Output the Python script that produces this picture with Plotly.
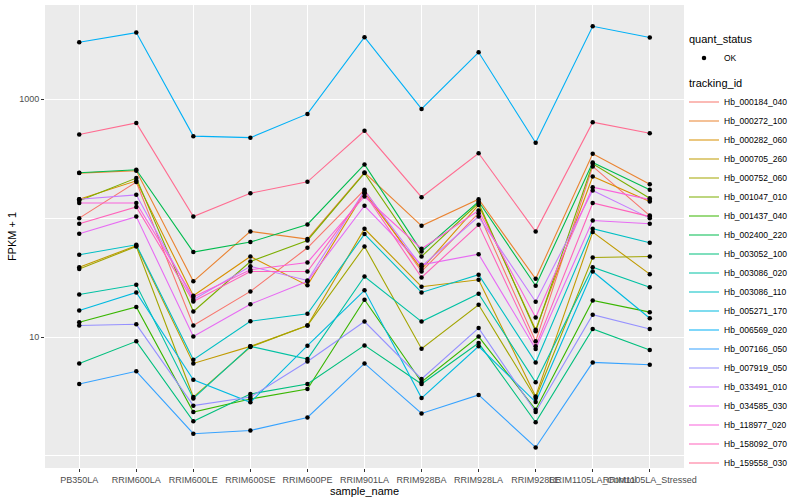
import plotly.graph_objects as go

samples = ["PB350LA", "RRIM600LA", "RRIM600LE", "RRIM600SE", "RRIM600PE", "RRIM901LA",
           "RRIM928BA", "RRIM928LA", "RRIM928LE", "RRIM1105LA_Control", "RRIM1105LA_Stressed"]

tracking_ids = ["Hb_000184_040", "Hb_000272_100", "Hb_000282_060", "Hb_000705_260", "Hb_000752_060",
                "Hb_001047_010", "Hb_001437_040", "Hb_002400_220", "Hb_003052_100", "Hb_003086_020",
                "Hb_003086_110", "Hb_005271_170", "Hb_006569_020", "Hb_007166_050", "Hb_007919_050",
                "Hb_033491_010", "Hb_034585_030", "Hb_118977_020", "Hb_158092_070", "Hb_159558_030"]

# FPKM + 1 values per gene, in sample order
hb_000184_040 = [100, 201, 12.5, 24.2, 56.3, 173, 35.6, 110, 9.2, 272, 105]
hb_000272_100 = [239, 250, 29.4, 77.3, 66.6, 242, 86.2, 144, 30.9, 347, 193]
hb_000282_060 = [144, 206, 22.3, 47.6, 27.2, 164, 37.3, 129, 11.5, 224, 138]
hb_000705_260 = [38.7, 58.6, 6.0, 8.35, 12.5, 81.4, 26.5, 30.3, 3.17, 76.3, 33.8]
hb_000752_060 = [37.3, 57.8, 3.13, 8.24, 12.5, 57.8, 7.98, 18.7, 3.07, 46.7, 47.6]
hb_001047_010 = [140, 217, 16.4, 43.2, 64.9, 239, 47.6, 134, 11.2, 286, 147]
hb_001437_040 = [13.3, 17.9, 2.34, 3.01, 3.66, 20.6, 4.19, 10.1, 2.45, 20.3, 16.2]
hb_002400_220 = [241, 255, 51.8, 62.9, 88.5, 283, 52.5, 138, 27.0, 294, 173]
hb_003052_100 = [6.0, 9.2, 1.96, 3.32, 4.03, 8.51, 4.03, 8.9, 1.92, 11.7, 7.78]
hb_003086_020 = [22.8, 27.5, 3.05, 8.35, 6.53, 32.3, 13.5, 23.1, 4.16, 38.7, 26.2]
hb_003086_110 = [49.2, 59.7, 6.45, 13.6, 15.7, 73.4, 23.7, 33.4, 6.12, 81.4, 62.1]
hb_005271_170 = [16.7, 23.7, 4.38, 2.83, 8.46, 24.7, 3.07, 8.35, 2.84, 35.6, 14.4]
hb_006569_020 = [3010, 3630, 489, 475, 752, 3320, 828, 2480, 430, 4100, 3300]
hb_007166_050 = [4.03, 5.15, 1.54, 1.64, 2.11, 6.0, 2.28, 3.26, 1.18, 6.12, 5.85]
hb_007919_050 = [12.5, 12.8, 2.65, 3.13, 6.24, 13.5, 4.44, 11.9, 2.34, 15.4, 11.7]
hb_033491_010 = [144, 157, 20.6, 39.3, 29.9, 170, 39.3, 103, 19.8, 171, 100]
hb_034585_030 = [73.9, 103, 10.1, 18.9, 29.4, 127, 40.5, 49.8, 7.93, 95.6, 89.6]
hb_118977_020 = [134, 134, 21.7, 36.8, 42.4, 152, 55.3, 116, 14.6, 182, 143]
hb_158092_070 = [89.6, 124, 19.9, 35.6, 35.6, 162, 31.7, 87.9, 8.35, 134, 103]
hb_159558_030 = [505, 632, 103, 162, 202, 542, 150, 351, 77, 641, 518]

series = [hb_000184_040, hb_000272_100, hb_000282_060, hb_000705_260, hb_000752_060,
          hb_001047_010, hb_001437_040, hb_002400_220, hb_003052_100, hb_003086_020,
          hb_003086_110, hb_005271_170, hb_006569_020, hb_007166_050, hb_007919_050,
          hb_033491_010, hb_034585_030, hb_118977_020, hb_158092_070, hb_159558_030]

palette = ["#F8766D", "#EA8331", "#D89000", "#C09B00", "#A3A500", "#7CAE00", "#39B600", "#00BB4E",
           "#00BF7D", "#00C1A3", "#00BFC4", "#00BAE0", "#00B0F6", "#35A2FF", "#9590FF", "#C77CFF",
           "#E76BF3", "#FA62DB", "#FF62BC", "#FF6C91"]

FONT = "Liberation Sans, Arial, sans-serif"

fig = go.Figure()

for i, (tid, vals, col) in enumerate(zip(tracking_ids, series, palette)):
    fig.add_trace(go.Scatter(
        x=samples, y=vals, mode="lines", name=tid,
        line=dict(color=col, width=1.1),
        legendgroup="tracking_id",
        legendgrouptitle=dict(text="tracking_id", font=dict(size=11, color="black", family=FONT)) if i == 0 else None,
        legendrank=100 + i,
    ))

# points (quant_status = OK)
all_x = [s for vals in series for s in samples]
all_y = [v for vals in series for v in vals]
fig.add_trace(go.Scatter(
    x=all_x, y=all_y, mode="markers", name="OK",
    marker=dict(color="black", size=4.5),
    legendgroup="quant_status",
    legendgrouptitle=dict(text="quant_status", font=dict(size=11, color="black", family=FONT)),
    legendrank=1,
))

fig.update_layout(
    width=800, height=500, autosize=False,
    margin=dict(l=45, r=116, t=5, b=32),
    paper_bgcolor="white", plot_bgcolor="#EBEBEB",
    font=dict(family=FONT, size=9, color="#4D4D4D"),
    legend=dict(
        x=1.0, xanchor="left", y=0.958, yanchor="top",
        font=dict(size=8.5, color="black", family=FONT),
        traceorder="grouped", tracegroupgap=6, itemwidth=30,
        bgcolor="rgba(0,0,0,0)",
    ),
    xaxis=dict(
        type="category", range=[-0.6, 10.6], tickangle=0, automargin=False,
        showgrid=True, gridcolor="white", gridwidth=1.1,
        ticks="outside", ticklen=3, tickcolor="#333333", tickwidth=1,
        tickfont=dict(size=9, color="#4D4D4D"),
        zeroline=False, showline=False,
        title=dict(text="sample_name", font=dict(size=11, color="black"), standoff=2),
    ),
    yaxis=dict(
        type="log", range=[-0.101, 3.792], automargin=False,
        tickmode="array", tickvals=[10, 1000], ticktext=["10", "1000"],
        showgrid=True, gridcolor="white", gridwidth=1.1,
        minor=dict(tickmode="array", tickvals=[1, 100, 10000], showgrid=True,
                   gridcolor="white", gridwidth=0.55, ticks=""),
        ticks="outside", ticklen=3, tickcolor="#333333", tickwidth=1,
        tickfont=dict(size=9, color="#4D4D4D"),
        zeroline=False, showline=False,
        title=dict(text="FPKM + 1", font=dict(size=11, color="black"), standoff=0),
    ),
)

fig.write_html("out.html", config={"displayModeBar": False},
               post_script="document.body.style.margin='0px';")
